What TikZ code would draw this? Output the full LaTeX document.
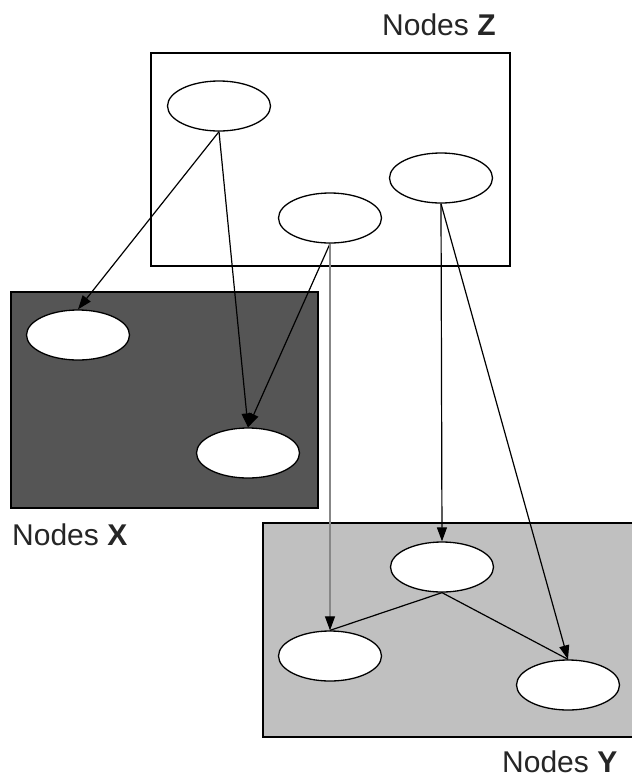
\documentclass[tikz,border=0pt]{standalone}
\usepackage{fontspec}
\setmainfont{Liberation Sans}
\usetikzlibrary{arrows.meta,shapes.geometric}
\definecolor{darkfill}{RGB}{85,85,85}
\definecolor{lightfill}{RGB}{192,192,192}
\definecolor{softline}{RGB}{135,135,135}
\begin{document}
\begin{tikzpicture}[x=1pt,y=-1pt,
  groupbox/.style={draw=black,line width=1.5pt},
  var/.style={ellipse,draw=black,fill=white,line width=1.3pt,minimum width=103pt,minimum height=50pt,inner sep=0pt},
  edge/.style={draw=black,line width=1.2pt,-{Triangle[length=14pt,width=10pt]}},
  link/.style={draw=black,line width=1.2pt},
  grouplabel/.style={anchor=base west,inner sep=0pt,font=\fontsize{30}{30}\selectfont,text=black!85}
]
\useasboundingbox (0,0) rectangle (632,780);
\clip (0,0) rectangle (632,780);
\fill[white] (0,0) rectangle (632,780);

% group boxes
\draw[groupbox,fill=white] (151,53) rectangle (510,266);
\draw[groupbox,fill=darkfill] (11,292) rectangle (318,508);
\draw[groupbox,fill=lightfill] (263,523) rectangle (640,737);

% group labels
\node[grouplabel] (labZ) at (382,35) {Nodes \textbf{Z}};
\node[grouplabel] (labX) at (12,545) {Nodes \textbf{X}};
\node[grouplabel] (labY) at (502,772) {Nodes \textbf{Y}};

% variables
\node[var] (z1) at (219,106) {};
\node[var] (z2) at (330,218) {};
\node[var] (z3) at (441,178) {};
\node[var] (x1) at (78,335) {};
\node[var] (x2) at (248,453) {};
\node[var] (y1) at (442,567) {};
\node[var] (y2) at (330,656) {};
\node[var] (y3) at (568,685) {};

% dependencies
\draw[edge] (z1.south) -- (x1.north);
\draw[edge] (z1.south) -- (x2.north);
\draw[edge] (z2.south) -- (x2.north);
\draw[edge,draw=softline,-{Triangle[length=14pt,width=10pt,black]}] (z2.south) -- (y2.north);
\draw[edge] (z3.south) -- (y1.north);
\draw[edge] (z3.south) -- (y3.north);
\draw[link] (y1.south) -- (y2.north);
\draw[link] (y1.south) -- (y3.north);
\end{tikzpicture}
\end{document}
